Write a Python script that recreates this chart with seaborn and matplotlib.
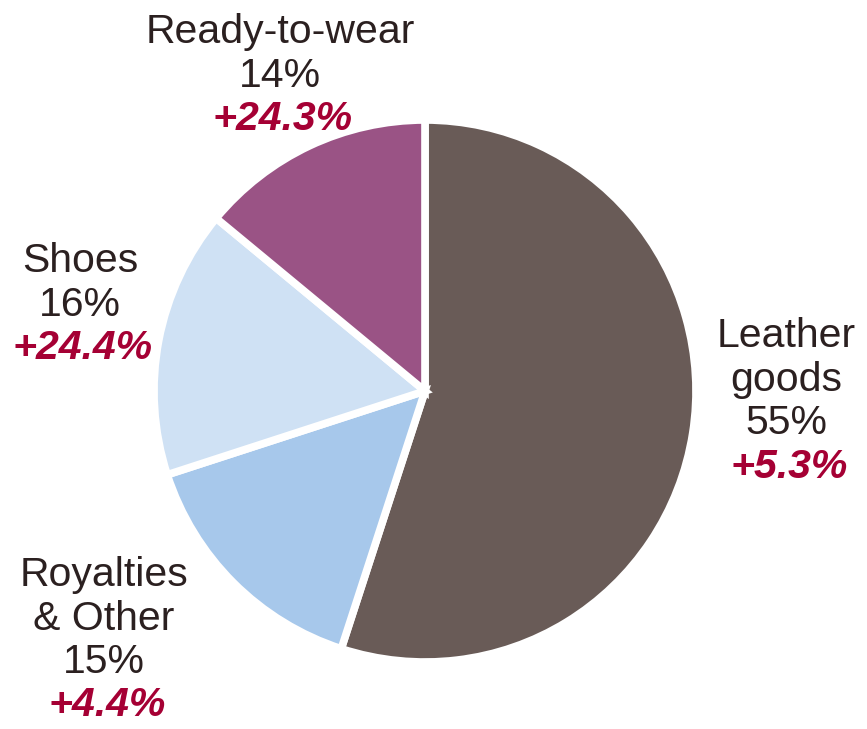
import matplotlib
matplotlib.use("Agg")
import matplotlib.pyplot as plt
import seaborn as sns

sns.set_theme(style="white")
plt.rcParams['font.family'] = ['Liberation Sans', 'DejaVu Sans']

categories = ["Leather goods", "Royalties & Other", "Shoes", "Ready-to-wear"]
shares = [55, 15, 16, 14]
growth = ["+5.3%", "+4.4%", "+24.4%", "+24.3%"]
name_lines = [["Leather", "goods"], ["Royalties", "& Other"], ["Shoes"], ["Ready-to-wear"]]
colors = ["#695b57", "#a7c8eb", "#cfe1f4", "#9a5385"]

W, H = 867, 729
fig = plt.figure(figsize=(W / 100, H / 100), dpi=100)
ax = fig.add_axes([0, 0, 1, 1])

cx, cy, r = 425, H - 391, 271
ax.pie(shares, colors=colors, startangle=90, counterclock=False,
       center=(cx, cy), radius=r,
       wedgeprops=dict(edgecolor="white", linewidth=5.5))
ax.set_xlim(0, W)
ax.set_ylim(0, H)
ax.set_aspect("equal")
ax.axis("off")

text_color = "#2b2020"
red = "#a50034"
fs = 29.5
anchors = {
    "Leather goods": (786, 347),
    "Royalties & Other": (104, 586),
    "Shoes": (80, 272),
    "Ready-to-wear": (280, 43),
}
step = 43.5
for cat, sh, g, lines in zip(categories, shares, growth, name_lines):
    x, y0 = anchors[cat]
    all_lines = lines + [f"{sh}%"]
    for i, ln in enumerate(all_lines):
        ax.text(x, H - (y0 + i * step), ln, ha="center", va="baseline",
                fontsize=fs, color=text_color)
    ax.text(x + 3, H - (y0 + len(all_lines) * step), g, ha="center", va="baseline",
            fontsize=fs, color=red, fontweight="bold", fontstyle="italic")

fig.savefig("out.png", dpi=100, facecolor="white")
